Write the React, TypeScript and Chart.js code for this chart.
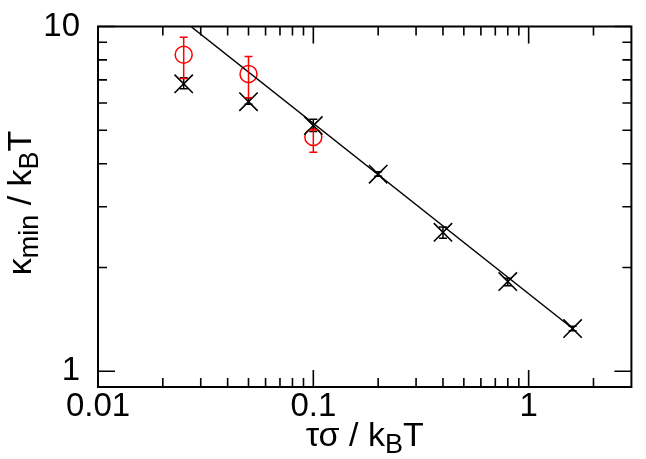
import React, { useEffect, useRef } from 'react';
import { Chart, registerables } from 'chart.js';
Chart.register(...registerables);

const tauX = [0.025, 0.05, 0.1, 0.2, 0.4, 0.8, 1.6];
const kappaCross = [6.82, 6.05, 5.16, 3.73, 2.53, 1.82, 1.33];
const kappaCrossLow = [6.6, 5.95, 4.96, 3.68, 2.43, 1.77, 1.31];
const kappaCrossHigh = [7.1, 6.2, 5.38, 3.79, 2.62, 1.86, 1.35];
const tauCircle = [0.025, 0.05, 0.1];
const kappaCircle = [8.28, 7.28, 4.78];
const kappaCircleLow = [7.06, 6.21, 4.32];
const kappaCircleHigh = [9.31, 8.19, 5.01];
const fitX = [0.027, 1.6];
const fitY = [10, 1.33];
const xMajor = [0.01, 0.1, 1];
const yMajor = [1, 10];
const X_MIN = 0.01, X_MAX = 3, Y_MIN = 0.9, Y_MAX = 10;

const FONT = '"Liberation Sans", Arial, sans-serif';

function minorList(min: number, max: number, majors: number[]) {
  const out: number[] = [];
  for (const d of majors) {
    for (let m = 2; m <= 9; m++) {
      const v = d * m;
      if (v > min && v < max) out.push(v);
    }
  }
  return out;
}

type Seg = { t: string; sub?: boolean };

function drawRich(ctx: CanvasRenderingContext2D, segs: Seg[], size: number, subSize: number, subShift: number) {
  let w = 0;
  const widths = segs.map((s) => {
    ctx.font = `${s.sub ? subSize : size}px ${FONT}`;
    const mw = ctx.measureText(s.t).width;
    w += mw;
    return mw;
  });
  let x = -w / 2;
  segs.forEach((s, i) => {
    ctx.font = `${s.sub ? subSize : size}px ${FONT}`;
    ctx.fillText(s.t, x, s.sub ? subShift : 0);
    x += widths[i];
  });
}

const framePlugin = {
  id: 'frame',
  afterDatasetsDraw(chart: any) {
    const { ctx, chartArea: a, scales } = chart;
    const xs = scales.x, ys = scales.y;
    ctx.save();
    // error bars
    const drawErr = (xv: number[], lo: number[], hi: number[], color: string) => {
      ctx.strokeStyle = color;
      ctx.lineWidth = 1.5;
      xv.forEach((x, i) => {
        const px = xs.getPixelForValue(x);
        const p1 = ys.getPixelForValue(lo[i]);
        const p2 = ys.getPixelForValue(hi[i]);
        ctx.beginPath();
        ctx.moveTo(px, p1); ctx.lineTo(px, p2);
        ctx.moveTo(px - 4, p1); ctx.lineTo(px + 4, p1);
        ctx.moveTo(px - 4, p2); ctx.lineTo(px + 4, p2);
        ctx.stroke();
      });
    };
    drawErr(tauX, kappaCrossLow, kappaCrossHigh, '#000');
    drawErr(tauCircle, kappaCircleLow, kappaCircleHigh, '#ff0000');

    // frame
    ctx.strokeStyle = '#000';
    ctx.lineWidth = 2;
    ctx.strokeRect(a.left, a.top, a.right - a.left, a.bottom - a.top);
    // ticks
    ctx.lineWidth = 1.6;
    ctx.beginPath();
    const xTick = (v: number, len: number) => {
      const px = xs.getPixelForValue(v);
      ctx.moveTo(px, a.bottom); ctx.lineTo(px, a.bottom - len);
      ctx.moveTo(px, a.top); ctx.lineTo(px, a.top + len);
    };
    const yTick = (v: number, len: number) => {
      const py = ys.getPixelForValue(v);
      ctx.moveTo(a.left, py); ctx.lineTo(a.left + len, py);
      ctx.moveTo(a.right, py); ctx.lineTo(a.right - len, py);
    };
    xMajor.forEach((v) => xTick(v, 17));
    minorList(X_MIN, X_MAX, xMajor).forEach((v) => xTick(v, 9));
    yMajor.forEach((v) => yTick(v, 17));
    minorList(Y_MIN, Y_MAX, [0.1, 1]).forEach((v) => yTick(v, 9));
    ctx.stroke();

    // axis titles
    ctx.fillStyle = '#000';
    ctx.textBaseline = 'alphabetic';
    ctx.textAlign = 'left';
    ctx.save();
    ctx.translate((a.left + a.right) / 2, 446);
    drawRich(ctx, [{ t: 'τσ / k' }, { t: 'B', sub: true }, { t: 'T' }], 34, 27, 7);
    ctx.restore();
    ctx.save();
    ctx.translate(31, 203);
    ctx.rotate(-Math.PI / 2);
    drawRich(ctx, [{ t: 'κ' }, { t: 'min', sub: true }, { t: ' / k' }, { t: 'B', sub: true }, { t: 'T' }], 34, 27, 7);
    ctx.restore();
    ctx.restore();
  },
};

export default function App() {
  const ref = useRef<HTMLCanvasElement>(null);
  useEffect(() => {
    if (!ref.current) return;
    const chart = new Chart(ref.current, {
      type: 'scatter',
      data: {
        datasets: [
          {
            type: 'line',
            data: fitX.map((x, i) => ({ x, y: fitY[i] })),
            borderColor: '#000',
            borderWidth: 1.5,
            pointRadius: 0,
            fill: false,
          } as any,
          {
            data: tauX.map((x, i) => ({ x, y: kappaCross[i] })),
            pointStyle: 'crossRot',
            pointRadius: 13,
            borderColor: '#000',
            borderWidth: 1.6,
            backgroundColor: 'transparent',
          },
          {
            data: tauCircle.map((x, i) => ({ x, y: kappaCircle[i] })),
            pointStyle: 'circle',
            pointRadius: 8.5,
            borderColor: '#ff0000',
            borderWidth: 1.5,
            backgroundColor: 'transparent',
          },
        ],
      },
      options: {
        animation: false,
        responsive: false,
        events: [],
        layout: { padding: { top: 14, right: 2, left: 0, bottom: 0 } },
        plugins: { legend: { display: false }, tooltip: { enabled: false } },
        scales: {
          x: {
            type: 'logarithmic',
            min: X_MIN,
            max: X_MAX,
            grid: { display: false },
            border: { display: false },
            afterBuildTicks: (s: any) => { s.ticks = xMajor.map((v) => ({ value: v })); },
            afterFit: (s: any) => { s.height = 72; },
            ticks: {
              autoSkip: false,
              maxRotation: 0,
              padding: -5,
              color: '#000',
              font: { family: FONT, size: 33, lineHeight: 1 },
              callback: (v: any) => String(Number(v)),
            },
          },
          y: {
            type: 'logarithmic',
            min: Y_MIN,
            max: Y_MAX,
            grid: { display: false },
            border: { display: false },
            afterBuildTicks: (s: any) => { s.ticks = yMajor.map((v) => ({ value: v })); },
            afterFit: (s: any) => { s.width = 98; },
            ticks: {
              autoSkip: false,
              padding: 10,
              color: '#000',
              font: { family: FONT, size: 33, lineHeight: 1 },
              callback: (v: any) => String(Number(v)),
            },
          },
        },
      },
      plugins: [framePlugin],
    });
    return () => chart.destroy();
  }, []);
  return (
    <div style={{ position: 'absolute', left: 0, top: 0, width: 646, height: 459, background: '#fff' }}>
      <canvas ref={ref} width={646} height={459} style={{ width: 646, height: 459 }} />
    </div>
  );
}
